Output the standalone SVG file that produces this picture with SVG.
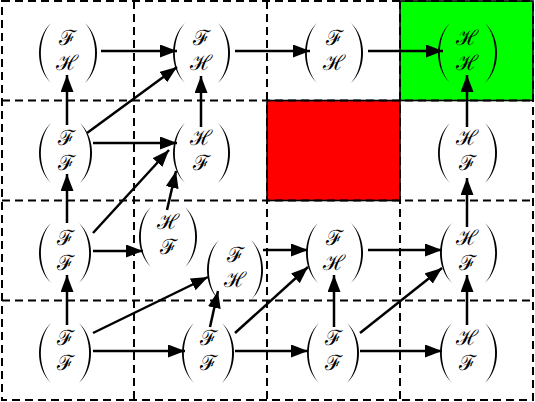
<svg xmlns="http://www.w3.org/2000/svg" xmlns:xlink="http://www.w3.org/1999/xlink" width="535" height="402" viewBox="0 0 535 402">
<style>
.grid{fill:none;stroke:#000;stroke-width:2;stroke-dasharray:8,5}
.box{stroke:#000;stroke-width:1.6}
.t{font-family:"DejaVu Serif","Liberation Serif",serif;font-size:21px;text-anchor:middle;dominant-baseline:central;fill:#000}
.e{stroke:#000;stroke-width:2.5;fill:none;marker-end:url(#ah)}
</style>
<defs>
<marker id="ah" markerUnits="userSpaceOnUse" markerWidth="18" markerHeight="13" refX="17" refY="6.5" orient="auto">
<path d="M0,0 L17,6.5 L0,13 z" fill="#000"/>
</marker>
<path id="lp" d="M12,0 C-4,15 -4,45 12,60 C-1.5,45 -1.5,15 12,0Z"/>
<path id="rp" d="M0,0 C16,15 16,45 0,60 C13.5,45 13.5,15 0,0Z"/>
</defs>
<rect width="535" height="402" fill="#fff"/>
<rect class="box" x="400" y="1" width="133" height="99.5" fill="#00ff00"/>
<rect class="box" x="267" y="100.5" width="133" height="100" fill="#ff0000"/>
<g id="grid">
<path class="grid" d="M2,1 H533 V400 H2 Z M134,1 V400 M267,1 V400 M400,1 V400 M2,100.5 H533 M2,200.5 H533 M2,300.5 H533"/>
</g>
<g id="connectors">
<line class="e" x1="101" y1="51" x2="177" y2="51"/>
<line class="e" x1="235" y1="51" x2="310" y2="51"/>
<line class="e" x1="368" y1="51" x2="443" y2="51"/>
<line class="e" x1="67" y1="125" x2="67" y2="75"/>
<line class="e" x1="87" y1="133" x2="177" y2="67"/>
<line class="e" x1="93" y1="143" x2="177" y2="143"/>
<line class="e" x1="201" y1="127" x2="201" y2="76"/>
<line class="e" x1="467" y1="127" x2="467" y2="75"/>
<line class="e" x1="67" y1="223" x2="67" y2="174"/>
<line class="e" x1="93" y1="233" x2="169" y2="150"/>
<line class="e" x1="93" y1="251" x2="143" y2="251"/>
<line class="e" x1="167" y1="210" x2="176" y2="171"/>
<line class="e" x1="467" y1="227" x2="467" y2="178"/>
<line class="e" x1="67" y1="325" x2="67" y2="275"/>
<line class="e" x1="93" y1="333" x2="208" y2="277"/>
<line class="e" x1="93" y1="351" x2="185" y2="351"/>
<line class="e" x1="210" y1="327" x2="218" y2="291"/>
<line class="e" x1="235" y1="333" x2="308" y2="267"/>
<line class="e" x1="235" y1="351" x2="308" y2="351"/>
<line class="e" x1="263" y1="250" x2="308" y2="250"/>
<line class="e" x1="334" y1="327" x2="334" y2="275"/>
<line class="e" x1="368" y1="250" x2="442" y2="250"/>
<line class="e" x1="360" y1="333" x2="442" y2="268"/>
<line class="e" x1="360" y1="351" x2="442" y2="351"/>
<line class="e" x1="467" y1="325" x2="467" y2="275"/>
</g>
<g id="nA"><use href="#lp" x="39" y="23"/><use href="#rp" x="85" y="23"/><text class="t" x="67" y="38">ℱ</text><text class="t" x="67" y="63">ℋ</text></g>
<g id="nB"><use href="#lp" x="173" y="23"/><use href="#rp" x="218" y="23"/><text class="t" x="201" y="38">ℱ</text><text class="t" x="201" y="63">ℋ</text></g>
<g id="nC"><use href="#lp" x="305" y="23"/><use href="#rp" x="351" y="23"/><text class="t" x="334" y="38">ℱ</text><text class="t" x="334" y="63">ℋ</text></g>
<g id="nD"><use href="#lp" x="438" y="23"/><use href="#rp" x="485" y="23"/><text class="t" x="467" y="38">ℋ</text><text class="t" x="467" y="63">ℋ</text></g>
<g id="nE"><use href="#lp" x="39" y="123"/><use href="#rp" x="80" y="123"/><text class="t" x="66" y="138">ℱ</text><text class="t" x="66" y="163">ℱ</text></g>
<g id="nF"><use href="#lp" x="173" y="123"/><use href="#rp" x="218" y="123"/><text class="t" x="201" y="138">ℋ</text><text class="t" x="201" y="163">ℱ</text></g>
<g id="nG"><use href="#lp" x="438" y="123"/><use href="#rp" x="485" y="123"/><text class="t" x="467" y="138">ℋ</text><text class="t" x="467" y="163">ℱ</text></g>
<g id="nH"><use href="#lp" x="39" y="223"/><use href="#rp" x="79" y="223"/><text class="t" x="65" y="238">ℱ</text><text class="t" x="65" y="263">ℱ</text></g>
<g id="nI"><use href="#lp" x="139" y="207"/><use href="#rp" x="185" y="207"/><text class="t" x="168" y="222">ℋ</text><text class="t" x="168" y="247">ℱ</text></g>
<g id="nJ"><use href="#lp" x="207" y="240"/><use href="#rp" x="251" y="240"/><text class="t" x="235" y="255">ℱ</text><text class="t" x="235" y="280">ℋ</text></g>
<g id="nK"><use href="#lp" x="306" y="223"/><use href="#rp" x="351" y="223"/><text class="t" x="334" y="238">ℱ</text><text class="t" x="334" y="263">ℋ</text></g>
<g id="nL"><use href="#lp" x="440" y="223"/><use href="#rp" x="485" y="223"/><text class="t" x="467" y="238">ℋ</text><text class="t" x="467" y="263">ℱ</text></g>
<g id="nM"><use href="#lp" x="39" y="323"/><use href="#rp" x="79" y="323"/><text class="t" x="65" y="338">ℱ</text><text class="t" x="65" y="363">ℱ</text></g>
<g id="nN"><use href="#lp" x="182" y="323"/><use href="#rp" x="222" y="323"/><text class="t" x="208" y="338">ℱ</text><text class="t" x="208" y="363">ℱ</text></g>
<g id="nO"><use href="#lp" x="307" y="323"/><use href="#rp" x="347" y="323"/><text class="t" x="333" y="338">ℱ</text><text class="t" x="333" y="363">ℱ</text></g>
<g id="nP"><use href="#lp" x="440" y="323"/><use href="#rp" x="485" y="323"/><text class="t" x="467" y="338">ℋ</text><text class="t" x="467" y="363">ℱ</text></g>
</svg>
